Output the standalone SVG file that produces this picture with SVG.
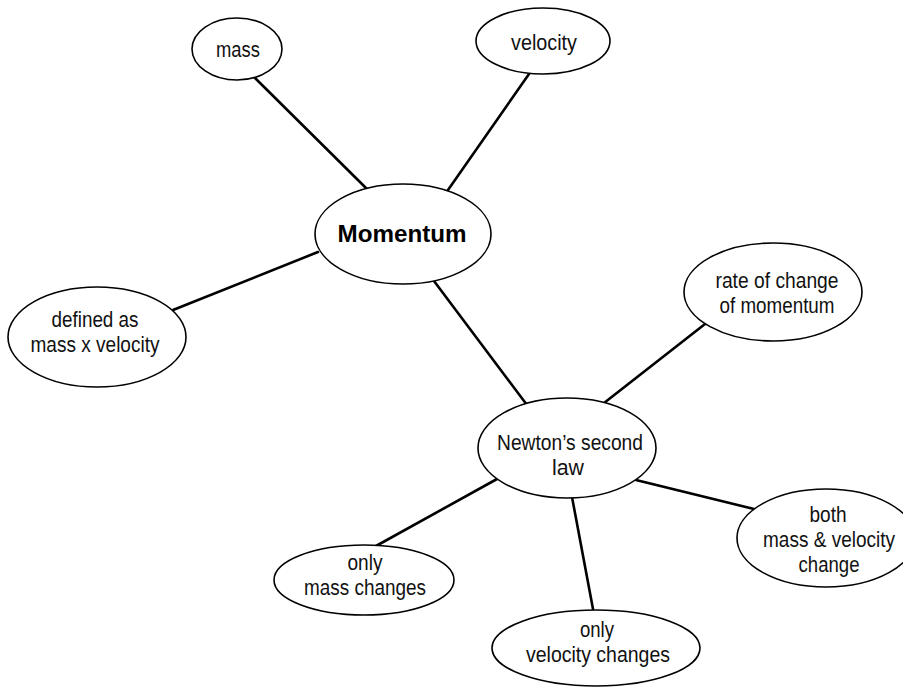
<svg xmlns="http://www.w3.org/2000/svg" width="903" height="688" viewBox="0 0 903 688">
<style>
.n ellipse{fill:#fff;stroke:#000;stroke-width:1.6}
.n text{font-family:"Liberation Sans",Arial,sans-serif;font-size:22px;fill:#111;text-anchor:middle}
.n text.b{font-weight:bold;font-size:24px;fill:#000}
#edges line{stroke:#000;stroke-width:2.6;stroke-linecap:round}
</style>
<rect width="903" height="688" fill="#fff"/>
<g id="edges">
<line x1="255" y1="78" x2="367" y2="189"/>
<line x1="529" y1="74" x2="448" y2="190"/>
<line x1="173" y1="310" x2="318" y2="252"/>
<line x1="434" y1="281" x2="527" y2="405"/>
<line x1="705" y1="324" x2="604" y2="403"/>
<line x1="497" y1="479" x2="376" y2="546"/>
<line x1="572" y1="497" x2="593" y2="609"/>
<line x1="636" y1="480" x2="754" y2="509"/>
</g>
<g id="mass" class="n">
<ellipse cx="237" cy="49" rx="45" ry="31"/>
<text x="238" y="57" textLength="44" lengthAdjust="spacingAndGlyphs">mass</text>
</g>
<g id="velocity" class="n">
<ellipse cx="543" cy="41" rx="67" ry="33"/>
<text x="544" y="50" textLength="66" lengthAdjust="spacingAndGlyphs">velocity</text>
</g>
<g id="momentum" class="n">
<ellipse cx="403" cy="234" rx="88" ry="50"/>
<text class="b" x="402" y="242" textLength="129" lengthAdjust="spacingAndGlyphs">Momentum</text>
</g>
<g id="defined" class="n">
<ellipse cx="97" cy="337" rx="89" ry="50"/>
<text x="95" y="327" textLength="87" lengthAdjust="spacingAndGlyphs">defined as</text>
<text x="95" y="352" textLength="129" lengthAdjust="spacingAndGlyphs">mass x velocity</text>
</g>
<g id="rate" class="n">
<ellipse cx="773" cy="292" rx="89" ry="49"/>
<text x="777" y="288" textLength="123" lengthAdjust="spacingAndGlyphs">rate of change</text>
<text x="777" y="313" textLength="115" lengthAdjust="spacingAndGlyphs">of momentum</text>
</g>
<g id="newton" class="n">
<ellipse cx="567" cy="448" rx="89" ry="50"/>
<text x="570" y="450" textLength="146" lengthAdjust="spacingAndGlyphs">Newton’s second</text>
<text x="568" y="475" textLength="32" lengthAdjust="spacingAndGlyphs">law</text>
</g>
<g id="onlymass" class="n">
<ellipse cx="364" cy="580" rx="90" ry="35"/>
<text x="365" y="570" textLength="35" lengthAdjust="spacingAndGlyphs">only</text>
<text x="365" y="595" textLength="122" lengthAdjust="spacingAndGlyphs">mass changes</text>
</g>
<g id="onlyvelocity" class="n">
<ellipse cx="596" cy="648" rx="104" ry="38"/>
<text x="597" y="637" textLength="34" lengthAdjust="spacingAndGlyphs">only</text>
<text x="598" y="662" textLength="144" lengthAdjust="spacingAndGlyphs">velocity changes</text>
</g>
<g id="both" class="n">
<ellipse cx="826" cy="538" rx="89" ry="49"/>
<text x="828" y="522" textLength="37" lengthAdjust="spacingAndGlyphs">both</text>
<text x="829" y="547" textLength="132" lengthAdjust="spacingAndGlyphs">mass &amp; velocity</text>
<text x="829" y="572" textLength="61" lengthAdjust="spacingAndGlyphs">change</text>
</g>
</svg>
